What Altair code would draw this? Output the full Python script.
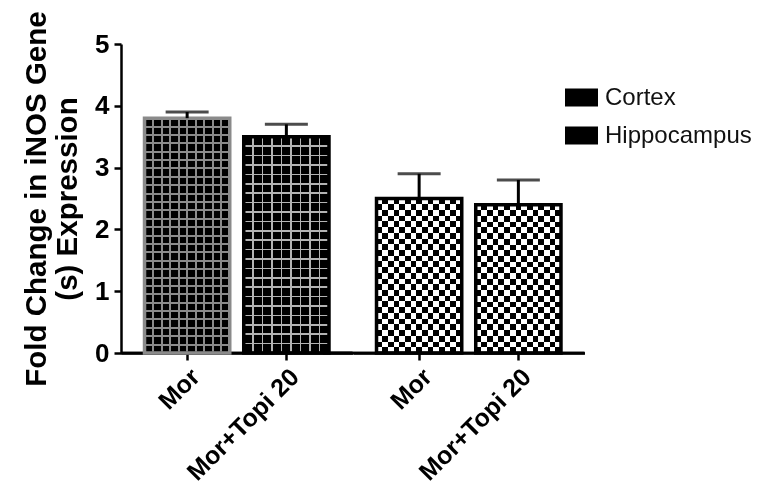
import altair as alt
import pandas as pd

# ---- data ----
tissues = ["Cortex", "Cortex", "Hippocampus", "Hippocampus"]
treatments = ["Mor", "Mor+Topi 20", "Mor", "Mor+Topi 20"]
means = [3.8, 3.5, 2.5, 2.4]
sems = [0.1, 0.2, 0.4, 0.4]
bar_ids = ["C1", "C2", "H1", "H2"]

df = pd.DataFrame({"tissue": tissues, "treatment": treatments,
                   "mean": means, "sem": sems, "bar": bar_ids})

# ---- layout / style constants ----
PANEL_W = 231.5
PLOT_H = 309
Y_MAX = 5
PAD_IN = 0.141
PAD_OUT = 0.237
STEP = PANEL_W / (2 - PAD_IN + 2 * PAD_OUT)
BAND = STEP * (1 - PAD_IN)
PX_PER_UNIT = PLOT_H / Y_MAX
FONT = "Arial"
T = "rgba(0,0,0,0)"


def grad(stops, along_x):
    return alt.LinearGradient(
        gradient="linear",
        stops=[alt.GradientStop(color=c, offset=max(0.0, min(1.0, o))) for o, c in stops],
        x1=0, y1=0, x2=1 if along_x else 0, y2=0 if along_x else 1)


def lines(n, width_px, size_px, color, along_x):
    half = width_px / size_px / 2
    st = [(0.0, T)]
    for k in range(1, n):
        p = k / n
        st += [(p - half, T), (p - half, color), (p + half, color), (p + half, T)]
    st.append((1.0, T))
    return grad(st, along_x)


def stripes(n, c1, c2, along_x):
    st = []
    for i in range(n):
        c = c1 if i % 2 == 0 else c2
        st += [(i / n, c), ((i + 1) / n, c)]
    return grad(st, along_x)


y_scale = alt.Scale(domain=[0, Y_MAX], nice=False)
x_scale = alt.Scale(domain=["Mor", "Mor+Topi 20"], paddingInner=PAD_IN, paddingOuter=PAD_OUT)

y_axis = alt.Axis(values=[0, 1, 2, 3, 4, 5], format="d", grid=False,
                  labelFont=FONT, labelFontSize=26, labelFontWeight="bold", labelColor="black",
                  labelPadding=5, domainColor="black", domainWidth=2.5,
                  tickColor="black", tickWidth=2.5, tickSize=7,
                  title=["Fold Change in iNOS Gene", "(s) Expression"],
                  titleFont=FONT, titleFontSize=29.5, titleFontWeight="bold", titleColor="black",
                  titleLineHeight=31, titlePadding=12)
x_axis = alt.Axis(title=None, grid=False, labelAngle=-45, labelAlign="right", labelBaseline="top",
                  labelFont=FONT, labelFontSize=25, labelFontWeight="bold", labelColor="black",
                  labelPadding=4, domainColor="black", domainWidth=2.5,
                  tickColor="black", tickWidth=2.5, tickSize=7)

X = alt.X("treatment:N", scale=x_scale, axis=x_axis)
Y = alt.Y("mean:Q", scale=y_scale, axis=y_axis)

layers = []
# base black bars carrying the legend
layers.append(alt.Chart().mark_bar(strokeWidth=0).encode(
    x=X, y=Y,
    color=alt.Color("tissue:N",
                    scale=alt.Scale(domain=["Cortex", "Hippocampus"], range=["black", "black"]),
                    legend=alt.Legend(orient="none", legendX=444, legendY=37, title=None,
                                      symbolType="M-1,-0.55H1V0.55H-1Z", symbolSize=1089,
                                      symbolStrokeWidth=0, labelFont=FONT, labelFontSize=24,
                                      labelColor="#111", rowPadding=9, labelOffset=7,
                                      padding=0))))

for bid, m in zip(bar_ids, means):
    h = m * PX_PER_UNIT
    flt = alt.datum.bar == bid
    if bid.startswith("C"):
        if bid == "C1":
            cell, lw, col = 8.4, 2.0, "#8a8a8a"
        else:
            cell, lw, col = 9.3, 1.6, "#b4b4b4"
        nx = max(2, round(BAND / cell))
        ny = max(2, round(h / cell))
        layers.append(alt.Chart().mark_bar(strokeWidth=0, fill=lines(nx, lw, BAND, col, True))
                      .encode(x=X, y=Y).transform_filter(flt))
        layers.append(alt.Chart().mark_bar(strokeWidth=0, fill=lines(ny, lw, h, col, False))
                      .encode(x=X, y=Y).transform_filter(flt))
    else:
        cell = 5.7
        nx = max(2, round(BAND / cell))
        ny = max(2, round(h / cell))
        layers.append(alt.Chart().mark_bar(strokeWidth=0, fill=stripes(nx, "black", "white", True))
                      .encode(x=X, y=Y).transform_filter(flt))
        layers.append(alt.Chart().mark_bar(strokeWidth=0, blend="difference",
                                           fill=stripes(ny, "white", "black", False))
                      .encode(x=X, y=Y).transform_filter(flt))

# continuous baseline along each panel (x-axis line)
layers.append(alt.Chart().mark_rule(color="black", strokeWidth=2.5).encode(
    y=alt.datum(0, scale=y_scale, axis=y_axis), x=alt.value(0), x2=alt.value(PANEL_W)))
# bridge the join between the two panels
layers.append(alt.Chart().mark_rule(color="black", strokeWidth=2.5).encode(
    y=alt.datum(0, scale=y_scale, axis=y_axis), x=alt.value(-30), x2=alt.value(0))
    .transform_filter(alt.datum.tissue == "Hippocampus"))

# outlines
layers.append(alt.Chart().mark_bar(fill=T, strokeWidth=3.5).encode(
    x=X, y=Y,
    stroke=alt.condition(alt.datum.bar == "C1", alt.value("#8a8a8a"), alt.value("black"))))

# error bars (upper only)
layers.append(alt.Chart().mark_rule(color="black", strokeWidth=3).encode(
    x=X, y=Y, y2="upper:Q").transform_calculate(upper="datum.mean + datum.sem"))
layers.append(alt.Chart().mark_tick(color="black", thickness=3, size=43).encode(
    x=X, y=alt.Y("upper:Q", scale=y_scale, axis=y_axis))
    .transform_calculate(upper="datum.mean + datum.sem"))

chart = alt.layer(*layers, data=df).properties(width=PANEL_W, height=PLOT_H).facet(
    column=alt.Column("tissue:N", title=None, header=alt.Header(labels=False, title=None)),
    spacing=0,
).properties(
    bounds="flush",
    padding={"left": 13, "top": 2, "right": 0, "bottom": 0}
).configure(background="white").configure_view(strokeOpacity=0)

chart.save("out.html", embed_options={"renderer": "svg", "actions": False})
